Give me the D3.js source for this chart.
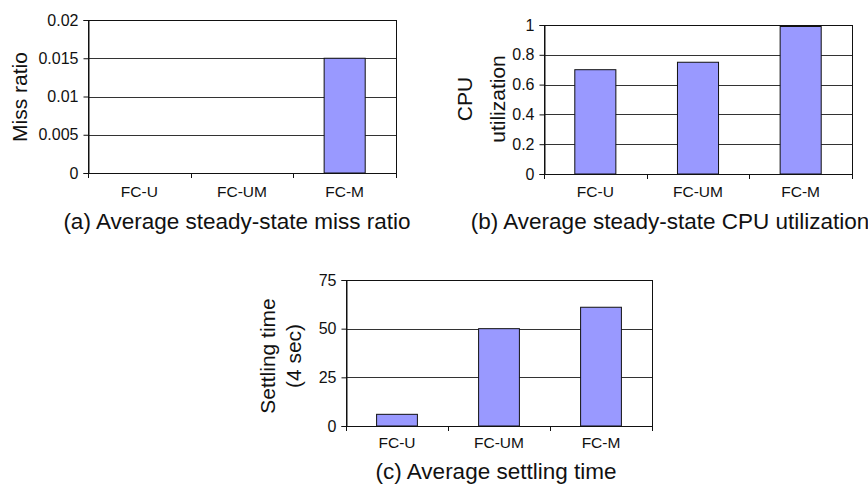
<!DOCTYPE html>
<html>
<head>
<meta charset="utf-8">
<script src="https://cdn.jsdelivr.net/npm/d3@7"></script>
<style>
  body { margin: 0; background: #fff; }
  text { font-family: "Liberation Sans", Arial, sans-serif; fill: #111; }
</style>
</head>
<body>
<svg width="868" height="484"></svg>
<script>
// data
var categories = ["FC-U", "FC-UM", "FC-M"];
var missRatio = [0, 0, 0.015];
var cpuUtil = [0.70, 0.75, 0.99];
var settling = [6, 50, 61];

var missTicks = [0, 0.005, 0.01, 0.015, 0.02];
var cpuTicks = [0, 0.2, 0.4, 0.6, 0.8, 1];
var settleTicks = [0, 25, 50, 75];

var svg = d3.select("svg");

var panels = [
  { values: missRatio, ticks: missTicks, max: 0.02,
    box: {left: 88, right: 396, top: 20, bottom: 173},
    ytitle: ["Miss ratio"], titleX: [27], titleY: 97,
    labelY: 197,
    caption: "(a) Average steady-state miss ratio", capX: 237, capY: 229 },
  { values: cpuUtil, ticks: cpuTicks, max: 1,
    box: {left: 544, right: 852, top: 25, bottom: 174},
    ytitle: ["CPU", "utilization"], titleX: [472, 505], titleY: 99,
    labelY: 197,
    caption: "(b) Average steady-state CPU utilization", capX: 670, capY: 229 },
  { values: settling, ticks: settleTicks, max: 75,
    box: {left: 346, right: 652, top: 280, bottom: 426},
    ytitle: ["Settling time", "(4 sec)"], titleX: [275, 301], titleY: 356,
    labelY: 448,
    caption: "(c) Average settling time", capX: 496, capY: 479 }
];

panels.forEach(function(p) {
  var b = p.box;
  var x = d3.scaleBand().domain(categories).range([b.left, b.right]).padding(0);
  var y = d3.scaleLinear().domain([0, p.max]).range([b.bottom, b.top]);
  var g = svg.append("g");

  // gridlines
  g.selectAll(".grid")
    .data(p.ticks.slice(1))
    .enter().append("line")
    .attr("x1", b.left).attr("x2", b.right)
    .attr("y1", function(d) { return Math.round(y(d)) + 0.5; })
    .attr("y2", function(d) { return Math.round(y(d)) + 0.5; })
    .attr("stroke", "#333")
    .attr("stroke-width", 1);

  // bars
  var bw = x.bandwidth() * 0.4;
  g.selectAll(".bar")
    .data(p.values)
    .enter().append("rect")
    .attr("x", function(d, i) { return x(categories[i]) + x.bandwidth() * 0.3; })
    .attr("width", bw)
    .attr("y", function(d) { return y(d); })
    .attr("height", function(d) { return b.bottom - y(d); })
    .attr("fill", "#9999ff")
    .attr("stroke", "#111")
    .attr("stroke-width", 1);

  // frame (top + right) and axes
  g.append("rect")
    .attr("x", b.left + 0.5).attr("y", Math.round(y(p.max)) + 0.5)
    .attr("width", b.right - b.left).attr("height", b.bottom - Math.round(y(p.max)))
    .attr("fill", "none").attr("stroke", "#111");

  var yAxis = d3.axisLeft(y).tickValues(p.ticks).tickSize(5).tickPadding(5)
    .tickFormat(function(d) { return String(d); });
  g.append("g")
    .attr("transform", "translate(" + (b.left + 0.5) + ",0)")
    .call(yAxis)
    .call(function(a) {
      a.select(".domain").attr("stroke", "#111");
      a.selectAll(".tick line").attr("stroke", "#111");
      a.selectAll("text").attr("font-size", 16).attr("font-family", "Liberation Sans, Arial, sans-serif").attr("fill", "#111");
    });

  // x axis: ticks at band edges, labels centred
  var edges = categories.map(function(c) { return x(c); }).concat([b.right]);
  g.selectAll(".xtick")
    .data(edges)
    .enter().append("line")
    .attr("x1", function(d) { return Math.round(d) + 0.5; })
    .attr("x2", function(d) { return Math.round(d) + 0.5; })
    .attr("y1", b.bottom).attr("y2", b.bottom + 5)
    .attr("stroke", "#111");
  g.append("line")
    .attr("x1", b.left).attr("x2", b.right + 1)
    .attr("y1", Math.round(b.bottom) + 0.5).attr("y2", Math.round(b.bottom) + 0.5)
    .attr("stroke", "#111");
  g.selectAll(".xlab")
    .data(categories)
    .enter().append("text")
    .attr("x", function(d) { return x(d) + x.bandwidth() / 2; })
    .attr("y", p.labelY)
    .attr("text-anchor", "middle")
    .attr("font-size", 15.5)
    .text(function(d) { return d; });

  // y title
  p.ytitle.forEach(function(t, i) {
    g.append("text")
      .attr("transform", "translate(" + p.titleX[i] + "," + p.titleY + ") rotate(-90)")
      .attr("text-anchor", "middle")
      .attr("font-size", 21)
      .text(t);
  });

  // caption
  svg.append("text")
    .attr("x", p.capX).attr("y", p.capY)
    .attr("text-anchor", "middle")
    .attr("font-size", 22.5)
    .text(p.caption);
});
</script>
</body>
</html>
